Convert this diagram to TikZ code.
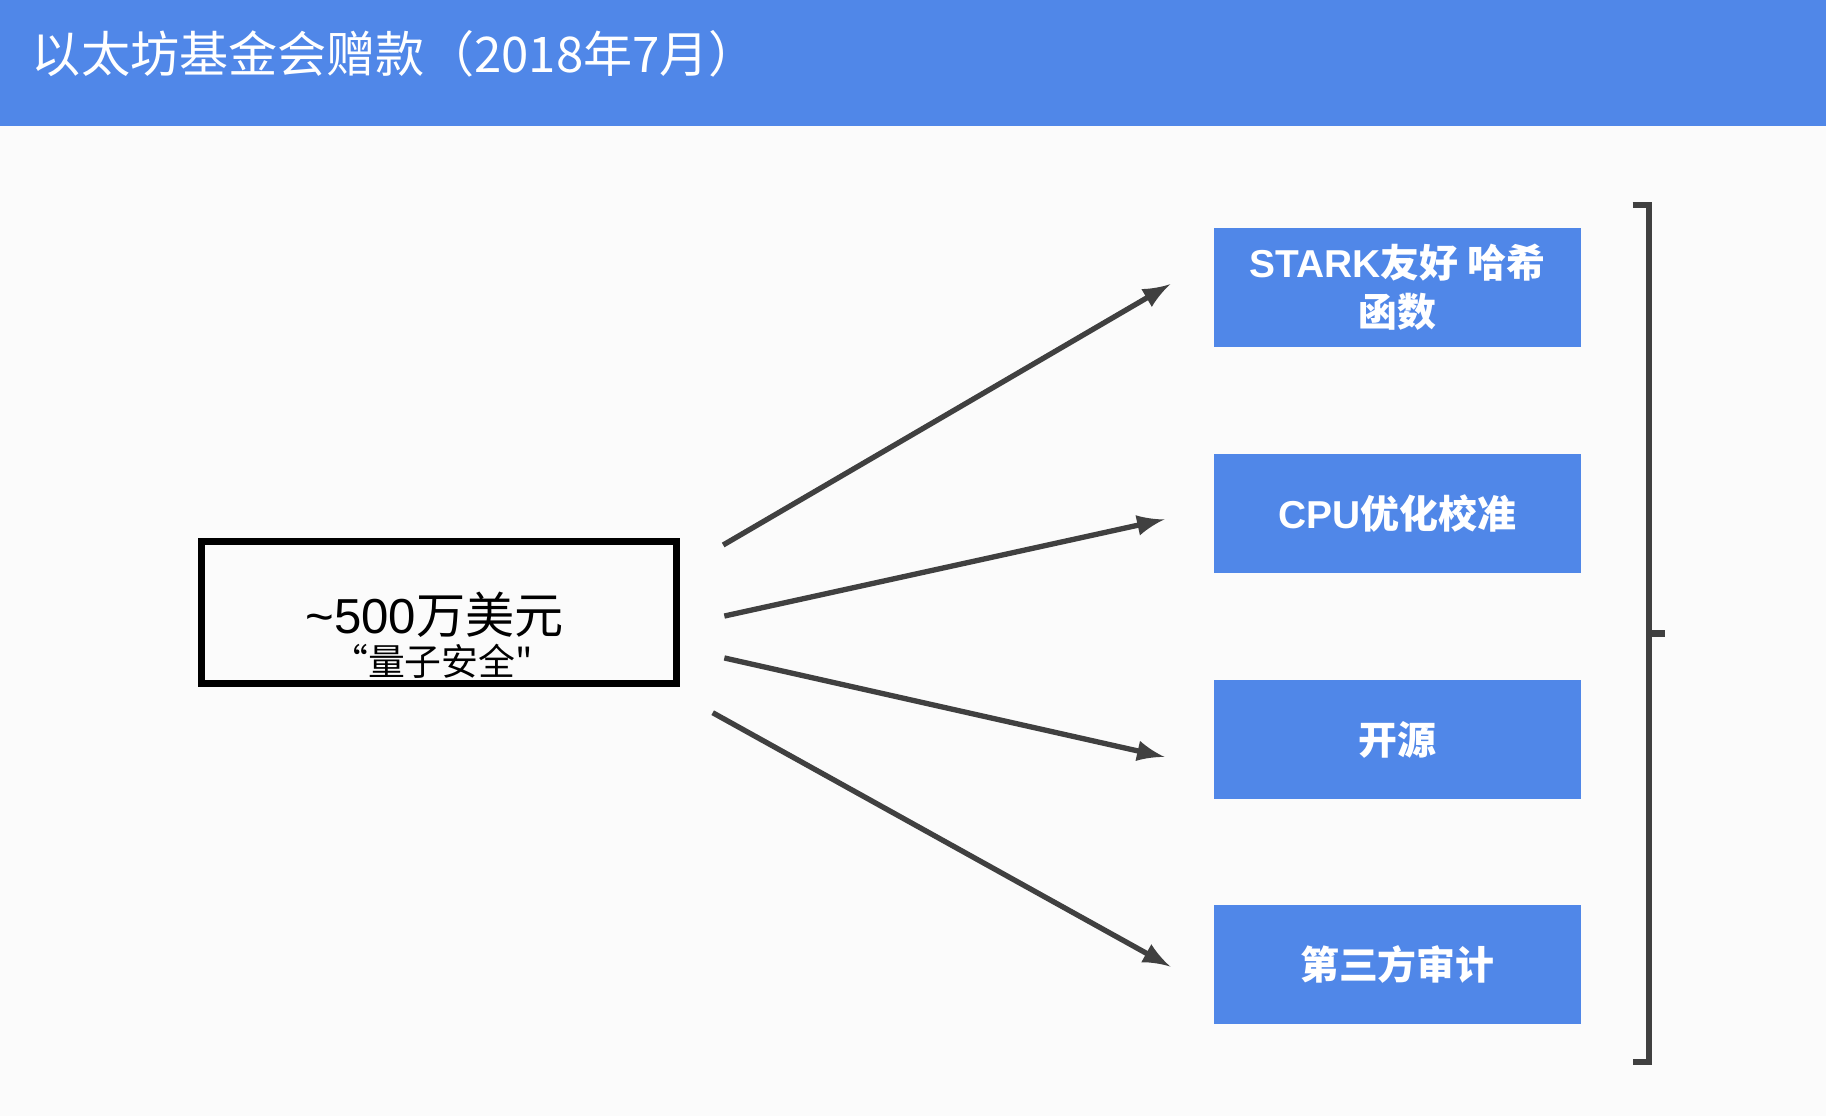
\documentclass[tikz,border=0pt]{standalone}
\usepackage{fontspec}
\setmainfont{Liberation Sans}
\newfontfamily\cjk{Noto Sans CJK SC}
\definecolor{barblue}{HTML}{5087E8}
\definecolor{arrowgray}{HTML}{404040}
\begin{document}
\begin{tikzpicture}[x=0.01cm,y=-0.01cm,>=latex,
    item/.style={fill=barblue,text=white,minimum width=3.15cm,minimum height=1.02cm,align=center,inner sep=0pt,font=\fontsize{9.5pt}{12pt}\selectfont\bfseries},
    link/.style={->,draw=arrowgray,line width=1.3pt}]
  \useasboundingbox[fill=white!97!gray] (0,0) rectangle (1568,958);
  \fill[barblue] (0,0) rectangle (1568,108);
  \node[anchor=west,text=white,font=\cjk\fontsize{12pt}{14pt}\selectfont] (title) at (15,46) {以太坊基金会赠款（2018年7月）};

  \node[draw=black,line width=1.6pt,minimum width=4.08cm,minimum height=1.22cm,inner sep=0pt] (fund) at (377,526) {};
  \node[font=\fontsize{12pt}{14pt}\selectfont] (amount) at (373,528) {\textasciitilde500{\cjk 万美元}};
  \node[font=\cjk\fontsize{9pt}{10pt}\selectfont] (quote) at (371,568) {“量子安全"};

  \node[item] (hash) at (1200,247) {STARK{\cjk\bfseries 友好 哈希}\\{\cjk\bfseries 函数}};
  \node[item] (cpu) at (1200,441) {CPU{\cjk\bfseries 优化校准}};
  \node[item] (open) at (1200,635) {\cjk\bfseries 开源};
  \node[item] (audit) at (1200,828) {\cjk\bfseries 第三方审计};

  \coordinate (s1) at (621,468); \coordinate (e1) at (1005,244);
  \coordinate (s2) at (622,529); \coordinate (e2) at (1000,446);
  \coordinate (s3) at (622,565); \coordinate (e3) at (1000,650);
  \coordinate (s4) at (612,612); \coordinate (e4) at (1005,830);
  \foreach \i in {1,...,4}
    \draw[link] (s\i) -- (e\i);

  % bracket
  \coordinate (btop) at (1402,176);
  \coordinate (bbot) at (1402,912);
  \draw[arrowgray,line width=1.5pt] (btop) -- (1416,176) -- (1416,912) -- (bbot);
  \draw[arrowgray,line width=1.5pt] (1416,544) -- (1430,544);
\end{tikzpicture}
\end{document}
